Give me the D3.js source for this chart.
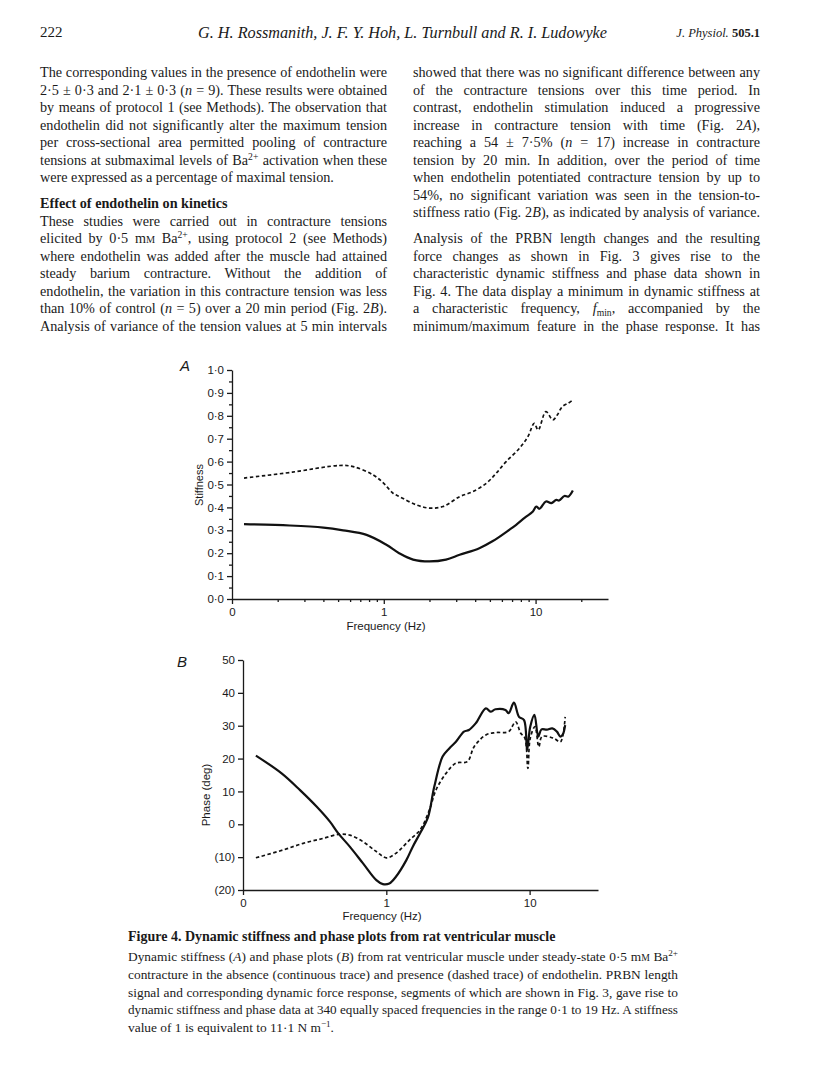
<!DOCTYPE html>
<html>
<head>
<meta charset="utf-8">
<script src="https://cdn.jsdelivr.net/npm/d3@7"></script>
<style>
  body { margin: 0; background: #fff; }
  svg text { fill: #1a1a1a; }
  .axis path, .axis line { stroke: #1a1a1a; stroke-width: 1.3; }
  .axis text { font-family: "Liberation Sans", Arial, sans-serif; font-size: 11.5px; fill: #1a1a1a; }
  .minor path { display: none; }
</style>
</head>
<body>
<div id="page"></div>
<script>

// ---- values ----

// panel A: stiffness vs frequency (Hz)
var freqStiffSolid = [0.12, 0.24, 0.4, 0.54, 0.77, 1.04, 1.27, 1.56, 2.0, 2.57, 3.16, 4.26, 5.23, 6.74, 7.45, 8.5, 9.6, 10.1, 10.6, 11.7, 12.7, 13.7, 14.3, 15.5, 16.4, 17.6];
var stiffSolid     = [0.327, 0.321, 0.312, 0.300, 0.280, 0.237, 0.199, 0.172, 0.164, 0.172, 0.193, 0.222, 0.253, 0.303, 0.324, 0.355, 0.382, 0.404, 0.394, 0.426, 0.419, 0.433, 0.430, 0.450, 0.447, 0.474];

var freqStiffDashed = [0.12, 0.25, 0.51, 0.63, 0.85, 1.0, 1.15, 1.27, 1.64, 2.0, 2.46, 3.16, 3.86, 4.75, 5.5, 6.4, 7.85, 8.9, 9.8, 10.4, 11.7, 13.0, 13.9, 15.0, 16.4, 17.6];
var stiffDashed     = [0.528, 0.554, 0.583, 0.578, 0.542, 0.505, 0.462, 0.447, 0.411, 0.397, 0.404, 0.447, 0.469, 0.506, 0.549, 0.600, 0.659, 0.709, 0.767, 0.738, 0.818, 0.782, 0.804, 0.840, 0.855, 0.869];

// panel B: phase (deg) vs frequency (Hz)
var freqPhaseSolid = [0.123, 0.186, 0.25, 0.326, 0.404, 0.461, 0.556, 0.688, 0.852, 0.946, 1.05, 1.17, 1.38, 1.53, 1.72, 1.95, 2.16, 2.47, 2.75, 3.06, 3.48, 3.77, 4.2, 4.95, 5.34, 5.78, 6.78, 7.14, 7.77, 8.43, 9.14, 9.6, 10.1, 10.8, 11.5, 12.1, 13.2, 14.4, 15.5, 16.4, 17.1, 17.7];
var phaseSolid     = [20.9, 15.5, 10.4, 5.4, 0.8, -2.7, -6.8, -11.9, -17.0, -18.2, -18.0, -15.9, -10.9, -6.8, -2.7, 2.0, 11.4, 20.6, 23.1, 25.1, 28.2, 28.7, 30.7, 35.3, 34.3, 35.0, 34.8, 33.8, 37.0, 32.7, 31.7, 22.6, 29.7, 33.3, 26.7, 28.9, 28.8, 29.2, 28.2, 26.7, 27.5, 30.2];

var freqPhaseDashed = [0.123, 0.191, 0.263, 0.362, 0.473, 0.556, 0.688, 0.852, 1.0, 1.17, 1.45, 1.72, 2.0, 2.22, 2.61, 3.06, 3.68, 4.1, 4.95, 5.78, 7.14, 7.98, 8.67, 9.27, 9.72, 10.1, 10.9, 11.6, 12.2, 14.7, 16.4, 17.7];
var phaseDashed     = [-10.2, -7.8, -5.8, -4.3, -3.0, -3.3, -5.3, -8.3, -10.2, -8.8, -4.8, -1.7, 4.4, 10.4, 15.5, 18.6, 19.1, 23.6, 27.2, 27.9, 28.2, 31.2, 27.7, 26.2, 17.0, 26.2, 29.7, 23.6, 26.7, 26.2, 25.1, 32.7];

// ticks
var freqTicks      = [0.1, 1, 10];
var freqTickLabels = ["0", "1", "10"];
var freqMinorTicks = [0.2, 0.3, 0.4, 0.5, 0.6, 0.7, 0.8, 0.9, 2, 3, 4, 5, 6, 7, 8, 9, 20];
var stiffTicks     = [0, 0.1, 0.2, 0.3, 0.4, 0.5, 0.6, 0.7, 0.8, 0.9, 1.0];
var stiffMinor     = [0.05, 0.15, 0.25, 0.35, 0.45, 0.55, 0.65, 0.75, 0.85, 0.95];
var phaseTicks     = [-20, -10, 0, 10, 20, 30, 40, 50];

// page text
var leftLines = [
  "The corresponding values in the presence of endothelin were",
  "2·5 ± 0·3 and 2·1 ± 0·3 (<i>n</i> = 9). These results were obtained",
  "by means of protocol 1 (see Methods). The observation that",
  "endothelin did not significantly alter the maximum tension",
  "per cross-sectional area permitted pooling of contracture",
  "tensions at submaximal levels of Ba<sup>2+</sup> activation when these",
  "were expressed as a percentage of maximal tension."
];
var leftLines2 = [
  "These studies were carried out in contracture tensions",
  "elicited by 0·5 m<sc>M</sc> Ba<sup>2+</sup>, using protocol 2 (see Methods)",
  "where endothelin was added after the muscle had attained",
  "steady barium contracture. Without the addition of",
  "endothelin, the variation in this contracture tension was less",
  "than 10% of control (<i>n</i> = 5) over a 20 min period (Fig. 2<i>B</i>).",
  "Analysis of variance of the tension values at 5 min intervals"
];
var rightLines = [
  "showed that there was no significant difference between any",
  "of the contracture tensions over this time period. In",
  "contrast, endothelin stimulation induced a progressive",
  "increase in contracture tension with time (Fig. 2<i>A</i>),",
  "reaching a 54 ± 7·5% (<i>n</i> = 17) increase in contracture",
  "tension by 20 min. In addition, over the period of time",
  "when endothelin potentiated contracture tension by up to",
  "54%, no significant variation was seen in the tension-to-",
  "stiffness ratio (Fig. 2<i>B</i>), as indicated by analysis of variance."
];
var rightLines2 = [
  "Analysis of the PRBN length changes and the resulting",
  "force changes as shown in Fig. 3 gives rise to the",
  "characteristic dynamic stiffness and phase data shown in",
  "Fig. 4. The data display a minimum in dynamic stiffness at",
  "a characteristic frequency, <i>f</i><sub>min</sub>, accompanied by the",
  "minimum/maximum feature in the phase response. It has"
];
var captionTitle = "Figure 4. Dynamic stiffness and phase plots from rat ventricular muscle";
var captionLines = [
  "Dynamic stiffness (<i>A</i>) and phase plots (<i>B</i>) from rat ventricular muscle under steady-state 0·5 m<sc>M</sc> Ba<sup>2+</sup>",
  "contracture in the absence (continuous trace) and presence (dashed trace) of endothelin. PRBN length",
  "signal and corresponding dynamic force response, segments of which are shown in Fig. 3, gave rise to",
  "dynamic stiffness and phase data at 340 equally spaced frequencies in the range 0·1 to 19 Hz. A stiffness",
  "value of 1 is equivalent to 11·1 N m<sup>−1</sup>."
];

var serif = '"Liberation Serif", "Times New Roman", serif';
var sans = '"Liberation Sans", Arial, sans-serif';

var svg = d3.select("#page").append("svg")
    .attr("width", 816)
    .attr("height", 1088);

svg.append("rect").attr("width", 816).attr("height", 1088).attr("fill", "#fff");

// write one line with little inline markup; width = justify to that width
function richText(str, x, y, size, width) {
    var t = svg.append("text")
        .attr("x", x).attr("y", y)
        .style("font-family", serif)
        .style("font-size", size + "px");
    var re = /<(i|sup|sub|sc)>(.*?)<\/\1>|([^<]+)/g, m, shift = 0;
    while ((m = re.exec(str))) {
        var tag = m[1], txt = tag ? m[2] : m[3];
        var ts = t.append("tspan").text(txt);
        var want = tag === "sup" ? -5 : (tag === "sub" ? 3 : 0);
        if (want !== shift) { ts.attr("dy", want - shift); shift = want; }
        if (tag === "i") ts.style("font-style", "italic");
        if (tag === "sup" || tag === "sub") ts.style("font-size", (size * 0.68) + "px");
        if (tag === "sc") ts.style("font-size", (size * 0.72) + "px");
    }
    if (width) {
        var natural = t.node().getComputedTextLength();
        var spaces = (t.text().match(/ /g) || []).length;
        if (natural < width && spaces > 0) {
            t.style("word-spacing", ((width - natural) / spaces) + "px");
        } else {
            t.attr("textLength", width).attr("lengthAdjust", "spacingAndGlyphs");
        }
    }
    return t;
}

// ---- header ----
svg.append("text").attr("x", 40).attr("y", 37)
    .style("font-family", serif).style("font-size", "15px")
    .text("222");
svg.append("text").attr("x", 198).attr("y", 38)
    .style("font-family", serif).style("font-size", "16px").style("font-style", "italic")
    .attr("textLength", 409).attr("lengthAdjust", "spacingAndGlyphs")
    .text("G. H. Rossmanith, J. F. Y. Hoh, L. Turnbull and R. I. Ludowyke");
var jp = svg.append("text").attr("x", 760).attr("y", 37).attr("text-anchor", "end")
    .style("font-family", serif).style("font-size", "12.5px");
jp.append("tspan").style("font-style", "italic").text("J. Physiol. ");
jp.append("tspan").style("font-weight", "bold").text("505.1");

// ---- body text ----
var lineH = 17.5, textTop = 77, colL = 40, colR = 413, colW = 347, bodySize = 14.2;

leftLines.forEach(function (s, i) {
    var last = i === leftLines.length - 1;
    richText(s, colL, textTop + i * lineH, bodySize, last ? null : colW);
});
svg.append("text").attr("x", colL).attr("y", textTop + 7.5 * lineH)
    .style("font-family", serif).style("font-size", bodySize + "px").style("font-weight", "bold")
    .text("Effect of endothelin on kinetics");
leftLines2.forEach(function (s, i) {
    richText(s, colL, textTop + (8.5 + i) * lineH, bodySize, colW);
});
rightLines.forEach(function (s, i) {
    richText(s, colR, textTop + i * lineH, bodySize, colW);
});
rightLines2.forEach(function (s, i) {
    richText(s, colR, textTop + (9.5 + i) * lineH, bodySize, colW);
});

// ---- panel A ----
var xA = d3.scaleLog().domain([0.1, 30]).range([232, 608]);
var yA = d3.scaleLinear().domain([0, 1]).range([599, 370]);

svg.append("g").attr("class", "axis")
    .attr("transform", "translate(232,0)")
    .call(d3.axisLeft(yA).tickValues(stiffTicks).tickSize(5).tickPadding(3).tickSizeOuter(0)
        .tickFormat(function (d) { return d.toFixed(1).replace(".", "·"); }));
svg.append("g").attr("class", "axis minor")
    .attr("transform", "translate(232,0)")
    .call(d3.axisLeft(yA).tickValues(stiffMinor).tickSize(3).tickFormat(""));

svg.append("g").attr("class", "axis")
    .attr("transform", "translate(0,599)")
    .call(d3.axisBottom(xA).tickValues(freqTicks).tickSize(5).tickPadding(4).tickSizeOuter(0)
        .tickFormat(function (d, i) { return freqTickLabels[i]; }));
svg.append("g").attr("class", "axis minor")
    .attr("transform", "translate(0,599)")
    .call(d3.axisBottom(xA).tickValues(freqMinorTicks).tickSize(3).tickFormat(""));

var lineA = d3.line()
    .x(function (d) { return xA(d[0]); })
    .y(function (d) { return yA(d[1]); })
    .curve(d3.curveCatmullRom.alpha(0.5));

svg.append("path")
    .attr("d", lineA(d3.zip(freqStiffSolid, stiffSolid)))
    .attr("fill", "none").attr("stroke", "#111").attr("stroke-width", 2.2);
svg.append("path")
    .attr("d", lineA(d3.zip(freqStiffDashed, stiffDashed)))
    .attr("fill", "none").attr("stroke", "#111").attr("stroke-width", 1.7)
    .attr("stroke-dasharray", "3.5,2.5");

svg.append("text")
    .attr("transform", "translate(203,485) rotate(-90)")
    .attr("text-anchor", "middle")
    .style("font-family", sans).style("font-size", "11px")
    .text("Stiffness");
svg.append("text").attr("x", 386).attr("y", 630).attr("text-anchor", "middle")
    .style("font-family", sans).style("font-size", "11.5px")
    .text("Frequency (Hz)");
svg.append("text").attr("x", 180).attr("y", 371)
    .style("font-family", sans).style("font-size", "15px").style("font-style", "italic")
    .text("A");

// ---- panel B ----
var xB = d3.scaleLog().domain([0.1, 30]).range([243, 598]);
var yB = d3.scaleLinear().domain([-20, 50]).range([890, 660]);

svg.append("g").attr("class", "axis")
    .attr("transform", "translate(243,0)")
    .call(d3.axisLeft(yB).tickValues(phaseTicks).tickSize(5).tickPadding(3).tickSizeOuter(0)
        .tickFormat(function (d) { return d < 0 ? "(" + (-d) + ")" : d; }));

svg.append("g").attr("class", "axis")
    .attr("transform", "translate(0,890)")
    .call(d3.axisBottom(xB).tickValues(freqTicks).tickSize(5).tickPadding(4).tickSizeOuter(0)
        .tickFormat(function (d, i) { return freqTickLabels[i]; }));

var lineB = d3.line()
    .x(function (d) { return xB(d[0]); })
    .y(function (d) { return yB(d[1]); })
    .curve(d3.curveCatmullRom.alpha(0.5));

svg.append("path")
    .attr("d", lineB(d3.zip(freqPhaseSolid, phaseSolid)))
    .attr("fill", "none").attr("stroke", "#111").attr("stroke-width", 2.2);
svg.append("path")
    .attr("d", lineB(d3.zip(freqPhaseDashed, phaseDashed)))
    .attr("fill", "none").attr("stroke", "#111").attr("stroke-width", 1.7)
    .attr("stroke-dasharray", "3.5,2.5");

svg.append("text")
    .attr("transform", "translate(210,795) rotate(-90)")
    .attr("text-anchor", "middle")
    .style("font-family", sans).style("font-size", "11.5px")
    .text("Phase (deg)");
svg.append("text").attr("x", 382).attr("y", 920).attr("text-anchor", "middle")
    .style("font-family", sans).style("font-size", "11.5px")
    .text("Frequency (Hz)");
svg.append("text").attr("x", 177).attr("y", 667)
    .style("font-family", sans).style("font-size", "15px").style("font-style", "italic")
    .text("B");

// ---- caption ----
svg.append("text").attr("x", 128).attr("y", 941)
    .style("font-family", serif).style("font-size", "14px").style("font-weight", "bold")
    .text(captionTitle);
captionLines.forEach(function (s, i) {
    var last = i === captionLines.length - 1;
    richText(s, 128, 961 + i * 17.8, 13.4, last ? null : 550);
});

</script>
</body>
</html>
